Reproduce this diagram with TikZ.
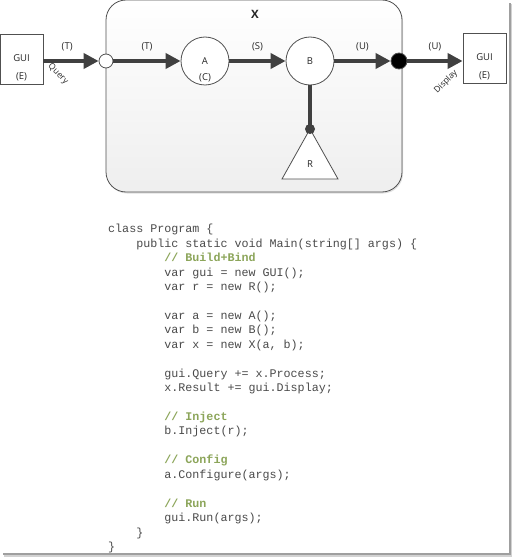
\documentclass[tikz,border=0pt]{standalone}
\usepackage{fontspec}
\setsansfont{Open Sans}
\setmonofont{Liberation Mono}
\usepackage{tikz}
\usetikzlibrary{arrows.meta}
\usetikzlibrary{calc}
\usetikzlibrary{shadows}
\usepackage{xcolor}

\definecolor{wire}{HTML}{404040}
\definecolor{edge}{HTML}{505050}
\definecolor{codegray}{HTML}{4A4A4A}
\definecolor{cmtgreen}{HTML}{8CA55A}

\newcommand{\cmt}[1]{\textcolor{cmtgreen}{\bfseries #1}}

\tikzset{
  lbl/.style={font=\sffamily\fontsize{9.5}{11}\selectfont, text=black!85},
  evt/.style={font=\sffamily\fontsize{8.5}{10}\selectfont, text=black!85, inner sep=0pt},
  flow/.style={line width=4pt, draw=wire, -{Triangle[length=15pt,width=15pt]}},
  tag/.style={lbl, above=7pt, inner sep=1pt},
  guibox/.style={draw=edge, line width=0.8pt, fill=white, minimum width=43pt, minimum height=50pt, inner sep=0pt},
  comp/.style={circle, draw=edge, line width=0.8pt, fill=white, minimum size=48pt, inner sep=0pt, lbl},
  port/.style={circle, draw=edge, line width=0.8pt, inner sep=0pt},
  code/.style={font=\ttfamily\fontsize{11.7}{14.45}\selectfont, text=codegray, align=left, inner sep=0pt}
}

\begin{document}
\begin{tikzpicture}[x=1pt, y=-1pt]
    \useasboundingbox (0,0) rectangle (513,559);

    % Outer frame shadow
    \draw[gray!75, line width=2pt] (3,554) -- (509.5,554) -- (509.5,3);
    \draw[gray!35, line width=1.5pt] (4,556) -- (511.5,556) -- (511.5,4);

    % Component X
    \node[draw=edge, line width=0.8pt, rounded corners=20pt, minimum width=296pt, minimum height=192pt,
          top color=white, bottom color=gray!13,
          drop shadow={shadow xshift=1pt, shadow yshift=-1.5pt, opacity=0.25}] (X) at (254,96) {};
    \node[lbl, font=\sffamily\bfseries\fontsize{11.5}{13}\selectfont] (Xname) at (255,14) {X};

    % GUI boxes
    \node[guibox] (guiL) at (21.5,59) {};
    \node[lbl] at ([yshift=1pt]guiL.center) {GUI};
    \node[lbl] at ([yshift=-18pt]guiL.center) {(E)};

    \node[guibox] (guiR) at (484.5,58) {};
    \node[lbl] at ([yshift=1pt]guiR.center) {GUI};
    \node[lbl] at ([yshift=-18pt]guiR.center) {(E)};

    % Ports of X
    \node[port, fill=white, minimum size=14pt] (inport) at (106,61) {};
    \node[port, fill=black, minimum size=16pt] (outport) at (399,61) {};

    % Parts A and B
    \node[comp] (A) at (205,61) {A};
    \node[lbl] at ([yshift=-17pt]A.center) {(C)};
    \node[comp] (B) at (310,61) {B};

    % Part R
    \coordinate (Rtop) at (310,129);
    \draw[draw=edge, line width=0.8pt, fill=white] (Rtop) -- (282,179) -- (338,179) -- cycle;
    \node[lbl] (R) at (310,164) {R};
    \node[circle, fill=wire, minimum size=10pt, inner sep=0pt] (rdot) at (Rtop) {};
    \draw[line width=4pt, draw=wire] (B.south) -- (rdot.center);

    % Flows
    \draw[flow] (guiL.east |- inport) -- node[tag, pos=0.43] {(T)} (inport.west);
    \draw[flow] (inport.east) -- node[tag] {(T)} (A.west);
    \draw[flow] (A.east) -- node[tag] {(S)} (B.west);
    \draw[flow] (B.east) -- node[tag] {(U)} (outport.west);
    \draw[flow] (outport.east) -- node[tag] {(U)} (guiR.west |- outport);

    % Event names
    \node[evt, rotate=-45] (query) at (58,74) {Query};
    \node[evt, rotate=45] (display) at (446,82) {Display};

    % Program listing
    \node[code, anchor=north west] (prog) at (108,224) {class Program \{\\
\hspace*{2.4em}public static void Main(string[] args) \{\\
\hspace*{4.8em}\cmt{// Build+Bind}\\
\hspace*{4.8em}var gui = new GUI();\\
\hspace*{4.8em}var r = new R();\\
\mbox{}\\
\hspace*{4.8em}var a = new A();\\
\hspace*{4.8em}var b = new B();\\
\hspace*{4.8em}var x = new X(a, b);\\
\mbox{}\\
\hspace*{4.8em}gui.Query += x.Process;\\
\hspace*{4.8em}x.Result += gui.Display;\\
\mbox{}\\
\hspace*{4.8em}\cmt{// Inject}\\
\hspace*{4.8em}b.Inject(r);\\
\mbox{}\\
\hspace*{4.8em}\cmt{// Config}\\
\hspace*{4.8em}a.Configure(args);\\
\mbox{}\\
\hspace*{4.8em}\cmt{// Run}\\
\hspace*{4.8em}gui.Run(args);\\
\hspace*{2.4em}\}\\
\}};
\end{tikzpicture}
\end{document}
